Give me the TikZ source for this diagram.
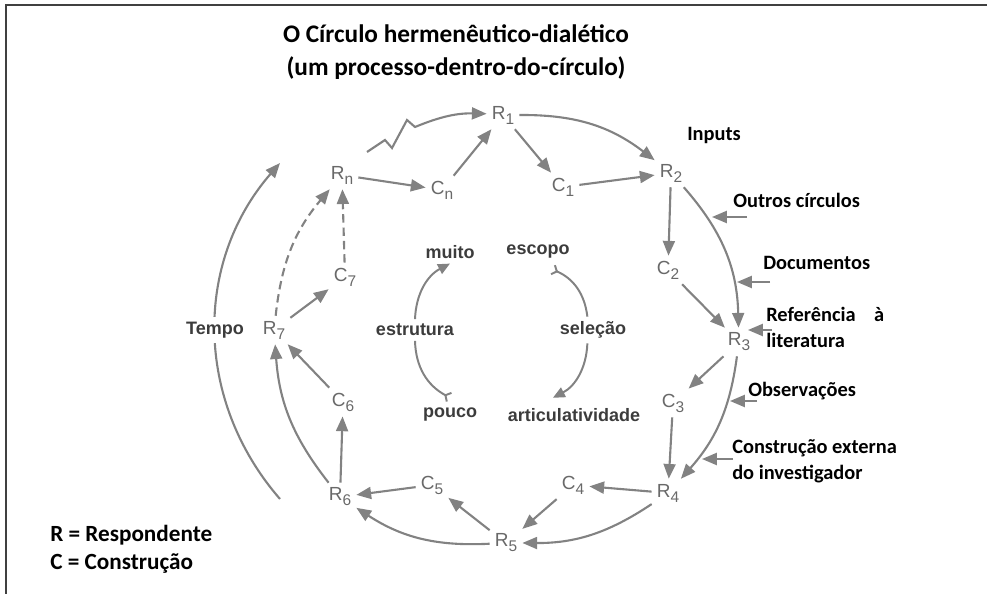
\documentclass[tikz,border=0pt]{standalone}
\usepackage{fontspec}
\setmainfont{Liberation Sans}
\newfontfamily\calibri{Carlito}
\usetikzlibrary{arrows.meta}
\definecolor{flowgray}{RGB}{130,130,130}
\definecolor{labgray}{RGB}{105,105,105}
\definecolor{ringgray}{RGB}{60,60,60}
\newcommand{\lowsub}[1]{\raisebox{-0.5ex}{\fontsize{11}{11}\selectfont #1}}
\begin{document}
\begin{tikzpicture}[x=0.025cm,y=-0.025cm,
  lab/.style={text=labgray,font=\fontsize{13.5}{15}\selectfont,inner sep=3.5pt},
  flow/.style={draw=flowgray,line width=1.5pt,-{Triangle[length=10.5pt,width=8.5pt]}},
  ringflow/.style={draw=flowgray,line width=1.4pt},
  ring/.style={text=ringgray,font=\bfseries\fontsize{12.8}{14}\selectfont},
  side/.style={font=\calibri\bfseries\fontsize{14.5}{18.5}\selectfont,anchor=west,align=left,inner sep=0pt},
  legend/.style={font=\calibri\bfseries\fontsize{16.5}{20}\selectfont,anchor=west,align=left,inner sep=0pt}]
\useasboundingbox (0,0) rectangle (987,594);
\draw[line width=1.2pt,draw=black!75] (987,5) -- (6,5) -- (6,594);
\node[font=\calibri\bfseries\fontsize{18}{23.5}\selectfont,align=center] (title) at (456,52) {O Círculo hermenêutico-dialético\\(um processo-dentro-do-círculo)};
\node[lab] (r1) at (503,115) {R\lowsub{1}};
\node[lab] (r2) at (671,173) {R\lowsub{2}};
\node[lab] (r3) at (739,342) {R\lowsub{3}};
\node[lab] (r4) at (668,493) {R\lowsub{4}};
\node[lab] (r5) at (506,543) {R\lowsub{5}};
\node[lab] (r6) at (340,497) {R\lowsub{6}};
\node[lab] (r7) at (274,330) {R\lowsub{7}};
\node[lab] (rn) at (342,175) {R\lowsub{n}};
\node[lab] (c1) at (563,187) {C\lowsub{1}};
\node[lab] (c2) at (668,270) {C\lowsub{2}};
\node[lab] (c3) at (673,403) {C\lowsub{3}};
\node[lab] (c4) at (573,485) {C\lowsub{4}};
\node[lab] (c5) at (432,485) {C\lowsub{5}};
\node[lab] (c6) at (343,402) {C\lowsub{6}};
\node[lab] (c7) at (345,277) {C\lowsub{7}};
\node[lab] (cn) at (442,190) {C\lowsub{n}};
\draw[flow] (rn) -- (cn);
\draw[flow] (cn) -- (r1);
\draw[flow] (r1) -- (c1);
\draw[flow] (c1) -- (r2);
\draw[flow] (r2) -- (c2);
\draw[flow] (c2) -- (r3);
\draw[flow] (r3) -- (c3);
\draw[flow] (c3) -- (r4);
\draw[flow] (r4) -- (c4);
\draw[flow] (c4) -- (r5);
\draw[flow] (r5) -- (c5);
\draw[flow] (c5) -- (r6);
\draw[flow] (r6) -- (c6);
\draw[flow] (c6) -- (r7);
\draw[flow] (r7) -- (c7);
\draw[flow,dash pattern=on 6pt off 3.5pt] (c7) -- (rn);
\draw[flow] (r1) to[bend left=19] (r2);
\draw[flow] (r2) to[bend left=20] (r3);
\draw[flow] (r3) to[bend left=17] (r4);
\draw[flow] (r4) to[bend left=17] (r5);
\draw[flow] (r5) to[bend left=18] (r6);
\draw[flow] (r6) to[bend left=17] (r7);
\draw[flow,dash pattern=on 6pt off 3.5pt] (r7) to[bend left=17] (rn);
\coordinate (zz) at (367,152);
\draw[flow] (zz) -- (385,140) -- (392,148) -- (407,120) -- (415,127) to[bend left=12] (r1);
\coordinate (t0) at (280,499);
\coordinate (t1) at (280,163);
\draw[flow] (t0) to[bend left=41] (t1);
\node[ring,fill=white] (tempo) at (215,330) {Tempo};
\node[ring] (muito) at (450,252) {muito};
\node[ring] (escopo) at (538,252) {escopo};
\node[ring] (estrutura) at (415,330) {estrutura};
\node[ring] (selecao) at (593,330) {seleção};
\node[ring] (pouco) at (450,415) {pouco};
\node[ring] (articul) at (574,415) {articulatividade};
\draw[ringflow,{Straight Barb[reversed,length=3pt,width=7pt]}-] ([yshift=4pt]pouco.north) to[bend left=30] (estrutura.south);
\draw[ringflow,-{Triangle[length=8.5pt,width=7.5pt]}] (estrutura.north) to[bend left=30] (muito.south);
\draw[ringflow,{Straight Barb[reversed,length=3pt,width=7pt]}-] ([xshift=10pt,yshift=-4pt]escopo.south) to[bend left=30] ([xshift=-4pt]selecao.north);
\draw[ringflow,-{Triangle[length=8.5pt,width=7.5pt]}] ([xshift=-4pt]selecao.south) to[bend left=30] ([xshift=-15pt,yshift=4pt]articul.north);
\node[side] (inputs) at (687,135) {Inputs};
\node[side] (outros) at (733,200) {Outros círculos};
\node[side] (docs) at (763,263) {Documentos};
\node[side] (refer) at (766,327) {Referência\hspace{0.9em}à\\literatura};
\node[side] (obs) at (748,391) {Observações};
\node[side] (constr) at (732,461) {Construção externa\\do investigador};
\coordinate (o1) at (747,217); \coordinate (o2) at (712,217);
\coordinate (d1) at (770,282); \coordinate (d2) at (737,282);
\coordinate (f1) at (772,330); \coordinate (f2) at (748,330);
\coordinate (b1) at (757,401); \coordinate (b2) at (730,401);
\coordinate (e1) at (733,459); \coordinate (e2) at (702,459);
\draw[flow] (o1) -- (o2);
\draw[flow] (d1) -- (d2);
\draw[flow] (f1) -- (f2);
\draw[flow] (b1) -- (b2);
\draw[flow] (e1) -- (e2);
\node[legend] (key) at (50,549) {R = Respondente\\C = Construção};
\end{tikzpicture}
\end{document}
